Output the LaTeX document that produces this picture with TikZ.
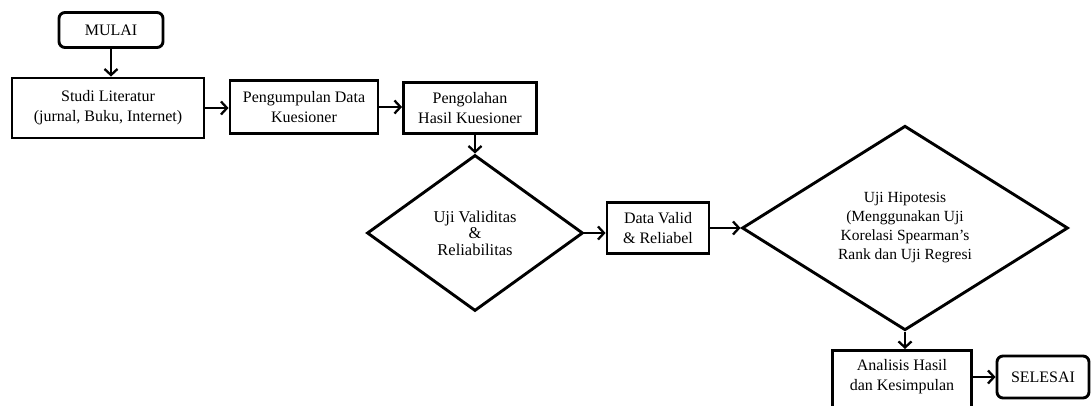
\documentclass[tikz,border=0pt]{standalone}
\usepackage{fontspec}
\setmainfont{Liberation Serif}
\usetikzlibrary{arrows.meta,shapes.geometric}
\begin{document}
\begin{tikzpicture}[x=1pt,y=-1pt,
  box/.style={draw,line width=2.9pt,rectangle,inner sep=2pt,align=center,font=\fontsize{16}{20}\selectfont},
  term/.style={box,rounded corners=6pt},
  dec/.style={draw,line width=2.9pt,diamond,inner sep=0pt,align=center,font=\fontsize{15.5}{19}\selectfont},
  arr/.style={line width=2.3pt,-{Straight Barb[length=6pt,width=13pt]}}
]
\useasboundingbox[fill=white] (0,0) rectangle (1092,406);
\node[term,minimum width=104,minimum height=35] (mulai) at (111,30) {MULAI};
\node[box,minimum width=192,minimum height=60] (studi) at (108,108) {Studi Literatur\\(jurnal, Buku, Internet)};
\node[box,minimum width=148,minimum height=53] (kumpul) at (304,107) {Pengumpulan Data\\Kuesioner};
\node[box,minimum width=133,minimum height=51] (olah) at (470,108) {Pengolahan\\Hasil Kuesioner};
\node[dec,minimum width=216,minimum height=156,font=\fontsize{16.5}{16.5}\selectfont] (uji) at (475,233) {Uji Validitas\\\&\\Reliabilitas};
\node[box,minimum width=102,minimum height=51] (valid) at (658,228) {Data Valid\\\& Reliabel};
\node[dec,minimum width=326,minimum height=190] (hipo) at (905,228) {Uji Hipotesis\\(Menggunakan Uji\\Korelasi Spearman’s\\Rank dan Uji Regresi};
\node[box,minimum width=139,minimum height=90,anchor=north] (anbox) at (902,349) {};
\node[align=center,inner sep=0pt,font=\fontsize{16}{20}\selectfont] (antext) at (902,377) {Analisis Hasil\\dan Kesimpulan};
\node[term,minimum width=92,minimum height=42] (selesai) at (1043,377) {SELESAI};
\draw[arr] (mulai.south) -- (mulai.south |- studi.north);
\draw[arr] (studi.east) -- (studi.east -| kumpul.west);
\draw[arr] (kumpul.east) -- (kumpul.east -| olah.west);
\draw[arr] (olah.south -| uji.north) -- (uji.north);
\draw[arr] (uji.east) -- (uji.east -| valid.west);
\draw[arr] (valid.east) -- (hipo.west);
\draw[arr] (hipo.south) -- (hipo.south |- anbox.north);
\draw[arr] (anbox.east |- selesai.west) -- (selesai.west);
\end{tikzpicture}
\end{document}
